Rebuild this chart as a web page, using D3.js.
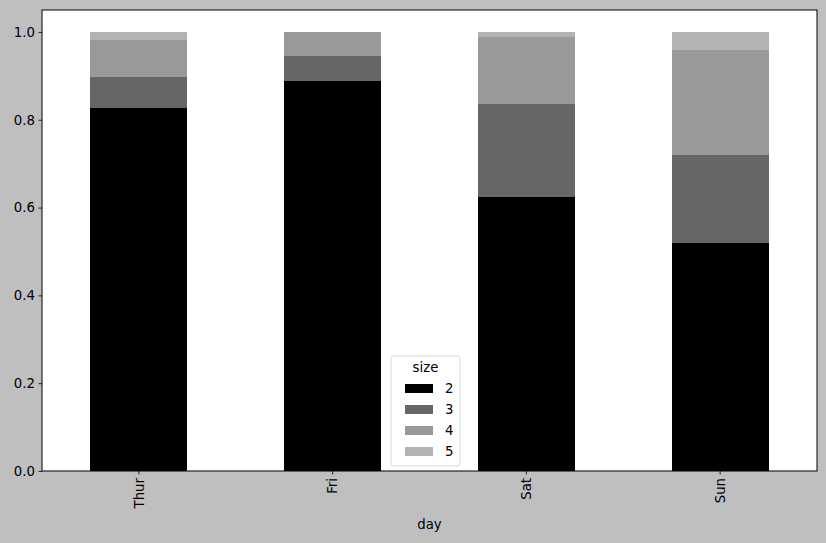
<!DOCTYPE html>
<html>
<head>
<meta charset="utf-8">
<script src="https://cdn.jsdelivr.net/npm/d3@7"></script>
<style>
  body { margin: 0; background: #bfbfbf; }
  svg { display: block; }
  svg text { font-family: "DejaVu Sans", sans-serif; }
</style>
</head>
<body>
<div id="chart"></div>
<script>
// party size share by day (tips data, normalized rows)
var days = ["Thur", "Fri", "Sat", "Sun"];
var sizes = ["2", "3", "4", "5"];
var size2 = [0.827586, 0.888889, 0.623529, 0.52];
var size3 = [0.068966, 0.055556, 0.211765, 0.20];
var size4 = [0.086207, 0.055556, 0.152941, 0.24];
var size5 = [0.017241, 0.0, 0.011765, 0.04];
var yTicks = [0.0, 0.2, 0.4, 0.6, 0.8, 1.0];
var colors = ["#000000", "#666666", "#999999", "#b3b3b3"];

var width = 826, height = 543;
var margin = {top: 10, right: 9, bottom: 72, left: 42};
var plotW = width - margin.left - margin.right;
var plotH = height - margin.top - margin.bottom;

var rows = days.map(function (d, i) {
    return {day: d, "2": size2[i], "3": size3[i], "4": size4[i], "5": size5[i]};
});
var series = d3.stack().keys(sizes)(rows);

var svg = d3.select("#chart").append("svg")
    .attr("width", width).attr("height", height);
svg.append("rect").attr("width", width).attr("height", height).attr("fill", "#bfbfbf");

var g = svg.append("g").attr("transform", "translate(" + margin.left + "," + margin.top + ")");
g.append("rect").attr("width", plotW).attr("height", plotH).attr("fill", "white");

var x = d3.scaleBand().domain(days).range([0, plotW]).paddingInner(0.5).paddingOuter(0.25);
var y = d3.scaleLinear().domain([0, 1.05]).range([plotH, 0]);

g.selectAll("g.series").data(series).enter().append("g")
    .attr("class", "series")
    .attr("fill", function (s, i) { return colors[i]; })
    .attr("shape-rendering", "crispEdges")
    .selectAll("rect").data(function (s) { return s; }).enter().append("rect")
    .attr("x", function (d) { return x(d.data.day); })
    .attr("width", x.bandwidth())
    .attr("y", function (d) { return y(d[1]); })
    .attr("height", function (d) { return y(d[0]) - y(d[1]); });

// axes
var yAxis = g.append("g").call(d3.axisLeft(y).tickValues(yTicks).tickFormat(d3.format(".1f")).tickSize(3.5).tickPadding(3.5));
var xAxis = g.append("g").attr("transform", "translate(0," + plotH + ")")
    .call(d3.axisBottom(x).tickSize(3.5).tickPadding(3.5));
[yAxis, xAxis].forEach(function (a) {
    a.attr("font-family", null).attr("font-size", null);
    a.select(".domain").remove();
    a.selectAll("line").attr("stroke", "black").attr("stroke-width", 0.8);
    a.selectAll("text").attr("fill", "black").style("font-size", "13.3px");
});
xAxis.selectAll("text")
    .attr("transform", "rotate(-90)")
    .attr("text-anchor", "end")
    .attr("x", -7).attr("y", 0).attr("dy", "0.35em");

g.append("rect").attr("width", plotW).attr("height", plotH)
    .attr("fill", "none").attr("stroke", "black").attr("stroke-width", 1);

svg.append("text").attr("x", margin.left + plotW / 2).attr("y", 529)
    .attr("text-anchor", "middle").style("font-size", "13.3px").text("day");

// legend
var lg = svg.append("g").attr("transform", "translate(391,356)");
lg.append("rect").attr("width", 69).attr("height", 110).attr("rx", 3)
    .attr("fill", "white").attr("fill-opacity", 0.8).attr("stroke", "#d9d9d9");
lg.append("text").attr("x", 34.5).attr("y", 16).attr("text-anchor", "middle")
    .style("font-size", "13.3px").text("size");
sizes.forEach(function (s, i) {
    var yy = 32 + i * 21;
    lg.append("rect").attr("x", 14).attr("y", yy - 4).attr("width", 28).attr("height", 9).attr("fill", colors[i]);
    lg.append("text").attr("x", 54).attr("y", yy + 5).style("font-size", "13.3px").text(s);
});
</script>
</body>
</html>
